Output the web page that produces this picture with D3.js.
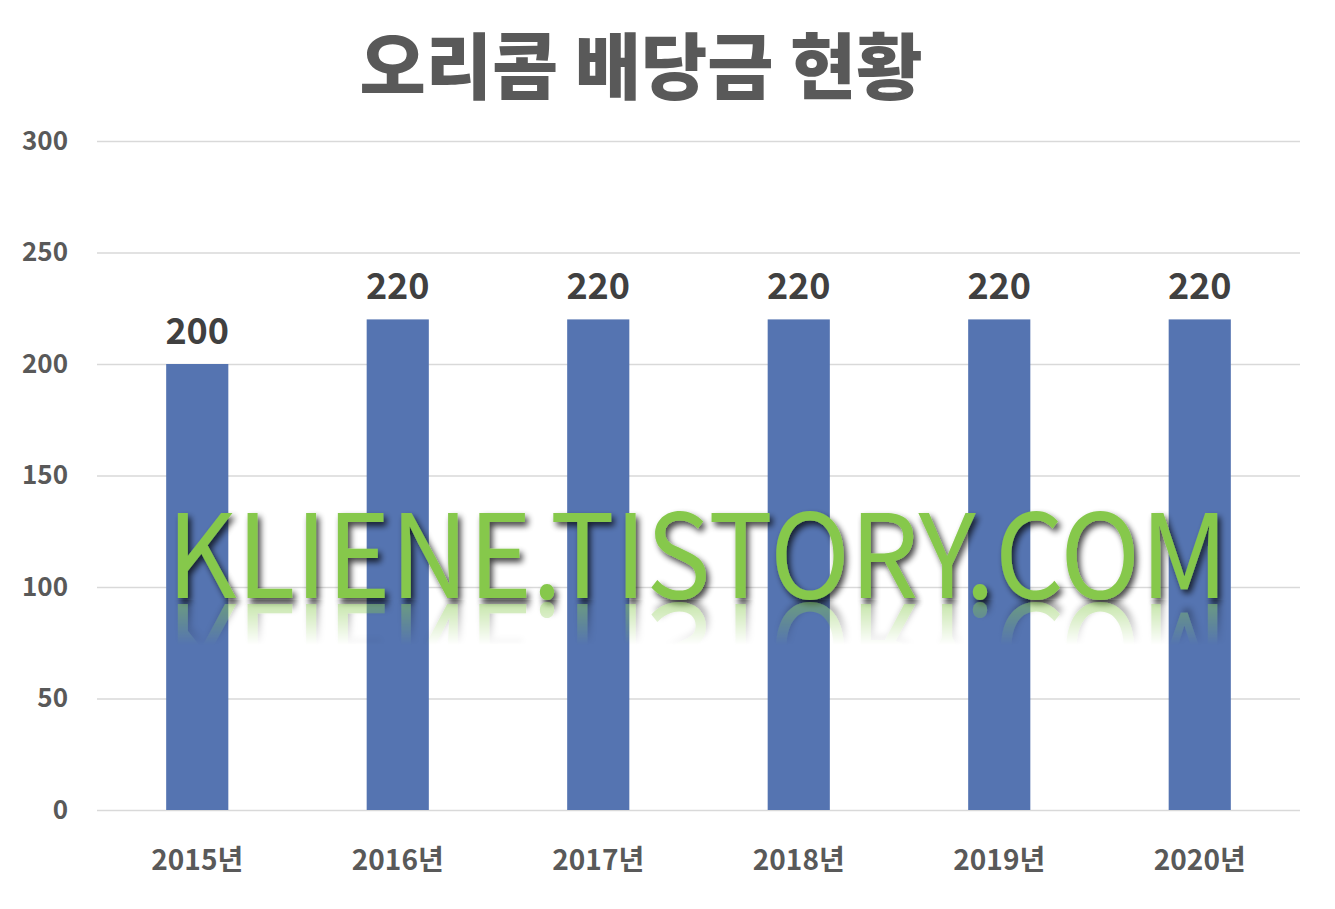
<!DOCTYPE html>
<html>
<head>
<meta charset="utf-8">
<script src="https://cdn.jsdelivr.net/npm/d3@7"></script>
<style>
  body { margin: 0; background: #fff; }
  text { font-family: "Noto Sans CJK KR", "Noto Sans", sans-serif; }
</style>
</head>
<body>
<div id="chart"></div>
<script>
const years = ['2015년', '2016년', '2017년', '2018년', '2019년', '2020년'];
const dividends = [200, 220, 220, 220, 220, 220];
const yTicks = [0, 50, 100, 150, 200, 250, 300];

const width = 1335, height = 909;
const margin = { top: 141, right: 35, bottom: 99, left: 97 };
const chartWidth = width - margin.left - margin.right;
const chartHeight = height - margin.top - margin.bottom;

const data = years.map((year, i) => ({ year, value: dividends[i] }));

const svg = d3.select('#chart').append('svg').attr('width', width).attr('height', height);

// shadow filter and fading mask for the watermark reflection
const defs = svg.append('defs');
const shadow = defs.append('filter').attr('id', 'shadow').attr('x', '-5%').attr('y', '-20%').attr('width', '110%').attr('height', '150%');
shadow.append('feGaussianBlur').attr('in', 'SourceAlpha').attr('stdDeviation', 3);
shadow.append('feOffset').attr('dx', 3).attr('dy', 4);
shadow.append('feComponentTransfer').append('feFuncA').attr('type', 'linear').attr('slope', 0.75);
const merge = shadow.append('feMerge');
merge.append('feMergeNode');
merge.append('feMergeNode').attr('in', 'SourceGraphic');

const reflGrad = defs.append('linearGradient').attr('id', 'reflGrad').attr('x1', 0).attr('y1', 0).attr('x2', 0).attr('y2', 1);
reflGrad.append('stop').attr('offset', '0%').attr('stop-color', '#fff').attr('stop-opacity', 0.5);
reflGrad.append('stop').attr('offset', '100%').attr('stop-color', '#fff').attr('stop-opacity', 0);
defs.append('mask').attr('id', 'reflMask').attr('maskUnits', 'userSpaceOnUse')
  .append('rect').attr('x', 0).attr('y', 600).attr('width', width).attr('height', 45).attr('fill', 'url(#reflGrad)');

const chart = svg.append('g').attr('transform', `translate(${margin.left},${margin.top})`);

const xScale = d3.scaleBand().range([0, chartWidth]).domain(years).paddingInner(0.69).paddingOuter(0.345);
const yScale = d3.scaleLinear().range([chartHeight, 0]).domain([0, 300]);

// gridlines + y labels
const yAxis = chart.append('g')
  .call(d3.axisLeft(yScale).tickValues(yTicks).tickSize(-chartWidth).tickPadding(29));
yAxis.select('.domain').remove();
yAxis.selectAll('.tick line').attr('stroke', '#d9d9d9').attr('stroke-width', 1.3);
yAxis.selectAll('.tick text')
  .attr('fill', '#595959').attr('font-size', 26).attr('font-weight', 'bold')
  .attr('font-family', 'Carlito, Calibri, "Liberation Sans", sans-serif');

chart.selectAll('.bar').data(data).enter().append('rect')
  .attr('class', 'bar')
  .attr('x', d => xScale(d.year))
  .attr('y', d => yScale(d.value))
  .attr('width', xScale.bandwidth())
  .attr('height', d => chartHeight - yScale(d.value))
  .attr('fill', '#5574b1');

chart.selectAll('.bar-label').data(data).enter().append('text')
  .attr('class', 'bar-label')
  .attr('x', d => xScale(d.year) + xScale.bandwidth() / 2)
  .attr('y', d => yScale(d.value) - 20)
  .attr('text-anchor', 'middle')
  .attr('fill', '#404040')
  .attr('font-size', 36)
  .attr('font-weight', 'bold')
  .text(d => d.value);

// x labels
const xAxis = chart.append('g').attr('transform', `translate(0,${chartHeight})`)
  .call(d3.axisBottom(xScale).tickSize(0).tickPadding(40));
xAxis.select('.domain').remove();
xAxis.selectAll('.tick text')
  .attr('fill', '#595959').attr('font-size', 28).attr('font-weight', 'bold');

// title
svg.append('text')
  .attr('x', 641)
  .attr('y', 93)
  .attr('text-anchor', 'middle')
  .attr('fill', '#595959')
  .attr('font-size', 72)
  .attr('font-weight', 900)
  .text('오리콤 배당금 현황');

// watermark with drop shadow and a faded mirror copy
svg.append('text')
  .attr('id', 'wm')
  .attr('x', 167).attr('y', 598)
  .attr('textLength', 1061).attr('lengthAdjust', 'spacingAndGlyphs')
  .attr('font-family', '"Open Sans", sans-serif')
  .attr('font-size', 116)
  .attr('fill', '#86c84c')
  .attr('filter', 'url(#shadow)')
  .text('KLIENE.TISTORY.COM');
svg.append('g').attr('mask', 'url(#reflMask)')
  .append('use')
  .attr('href', '#wm')
  .attr('transform', 'translate(0,1202) scale(1,-1)');
</script>
</body>
</html>
